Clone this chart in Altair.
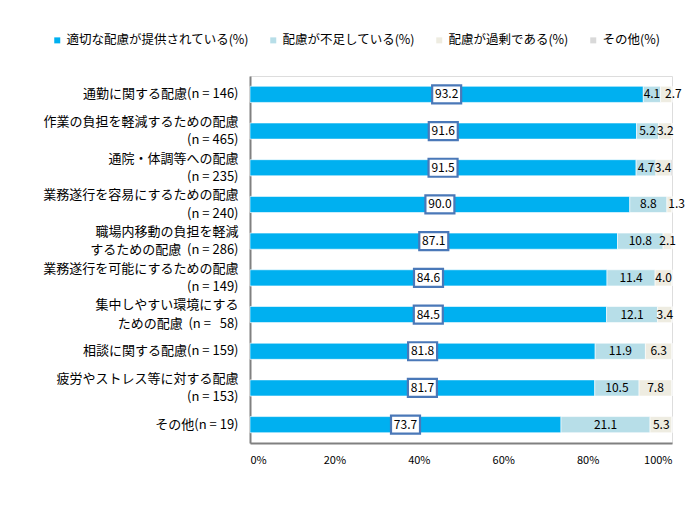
import altair as alt
import pandas as pd

categories = [
    "通勤に関する配慮(n = 146)",
    "作業の負担を軽減するための配慮|(n = 465)",
    "通院・体調等への配慮\u00a0\u00a0|(n = 235)",
    "業務遂行を容易にするための配慮\u00a0|(n = 240)",
    "職場内移動の負担を軽減|するための配慮\u00a0\u00a0(n = 286)",
    "業務遂行を可能にするための配慮|(n = 149)",
    "集中しやすい環境にする|ための配慮\u00a0\u00a0(n =\u00a0\u00a0\u00a058)",
    "相談に関する配慮(n = 159)",
    "疲労やストレス等に対する配慮|(n = 153)",
    "その他(n = 19)",
]
series = ["適切な配慮が提供されている(%)", "配慮が不足している(%)", "配慮が過剰である(%)", "その他(%)"]
appropriate = [93.2, 91.6, 91.5, 90.0, 87.1, 84.6, 84.5, 81.8, 81.7, 73.7]
insufficient = [4.1, 5.2, 4.7, 8.8, 10.8, 11.4, 12.1, 11.9, 10.5, 21.1]
excessive = [2.7, 3.2, 3.4, 1.3, 2.1, 4.0, 3.4, 6.3, 7.8, 5.3]
other = [0.0, 0.0, 0.4, 0.0, 0.0, 0.0, 0.0, 0.0, 0.0, 0.0]
colors = ["#00B0F0", "#B7DEE8", "#EEECE1", "#D9D9D9"]
x_ticks = [0, 20, 40, 60, 80, 100]

rows = []
for ci, cat in enumerate(categories):
    for si, (s, vals) in enumerate(zip(series, [appropriate, insufficient, excessive, other])):
        rows.append({"cat": cat, "series": s, "idx": si, "value": vals[ci]})
df = pd.DataFrame(rows)

FONT = "Noto Sans CJK JP"

base = alt.Chart(df).transform_stack(
    stack="value", groupby=["cat"], as_=["v0", "v1"], sort=[alt.SortField("idx")]
).transform_calculate(mid="(datum.v0 + datum.v1) / 2")

y_enc = alt.Y(
    "cat:N", sort=categories, title=None,
    scale=alt.Scale(paddingInner=0.56, paddingOuter=0.28),
    axis=alt.Axis(labelExpr="split(datum.label, '|')", labelFont=FONT, labelFontSize=13,
                  labelLineHeight=18.5, labelColor="#000", labelPadding=12, ticks=False,
                  labelOffset=alt.condition("indexof(datum.value, '|') >= 0", alt.value(-9.25), alt.value(0)),
                  domainColor="#808080", domainWidth=2, labelLimit=300),
)
x_scale = alt.Scale(domain=[0, 100], clamp=True)

bars = base.mark_bar(stroke="white", strokeWidth=0.6).encode(
    x=alt.X("v0:Q", scale=x_scale, title=None,
            axis=alt.Axis(values=x_ticks, labelExpr="datum.value + '%'", grid=False, ticks=False,
                          labelFont=FONT, labelFontSize=11, labelColor="#000", labelPadding=11,
                          domainColor="#808080", domainWidth=2)),
    x2="v1:Q",
    y=y_enc,
    color=alt.Color("series:N", scale=alt.Scale(domain=series, range=colors),
                    legend=alt.Legend(title=None, orient="none", direction="horizontal",
                                      legendX=-199, legendY=-42, symbolType="square",
                                      symbolSize=36, symbolStrokeWidth=0, labelFont=FONT,
                                      labelFontSize=12.5, labelColor="#000", columnPadding=18,
                                      labelOffset=3, labelLimit=300)),
    order=alt.Order("idx:Q"),
)

boxes = base.transform_filter("datum.idx == 0").mark_point(
    shape="M-1,-0.62H1V0.62H-1Z", size=841, filled=True, fill="white",
    stroke="#4A78B8", strokeWidth=2.2, opacity=1,
).encode(x=alt.X("mid:Q", scale=x_scale), y=alt.Y("cat:N", sort=categories))

labels_main = base.transform_filter("datum.idx < 2 && datum.value > 0").mark_text(
    font=FONT, fontSize=12, color="#000", baseline="middle", align="center",
).encode(
    x=alt.X("mid:Q", scale=x_scale),
    y=alt.Y("cat:N", sort=categories),
    text=alt.Text("value:Q", format=".1f"),
)

NUDGE = "(datum.value < 3 && datum.v0 < 97.5) || datum.value < 1.5"

# third-segment labels: the thinnest ones sit nudged to the right, as in the reference
labels_thin = base.transform_filter(f"datum.idx == 2 && ({NUDGE})").mark_text(
    font=FONT, fontSize=12, color="#000", baseline="middle", align="center", dx=7,
).encode(
    x=alt.X("mid:Q", scale=x_scale),
    y=alt.Y("cat:N", sort=categories),
    text=alt.Text("value:Q", format=".1f"),
)
labels_rest = base.transform_filter(f"datum.idx == 2 && !({NUDGE})").mark_text(
    font=FONT, fontSize=12, color="#000", baseline="middle", align="center",
).encode(
    x=alt.X("mid:Q", scale=x_scale),
    y=alt.Y("cat:N", sort=categories),
    text=alt.Text("value:Q", format=".1f"),
)

chart = alt.layer(bars, boxes, labels_main, labels_thin, labels_rest).properties(
    width=422, height=367,
    autosize=alt.AutoSizeParams(type="none"),
    padding={"left": 242, "top": 68, "right": 15, "bottom": 40},
).configure_view(stroke=None).configure(background="white")

chart.save("out.html", embed_options={"renderer": "svg", "actions": False})
